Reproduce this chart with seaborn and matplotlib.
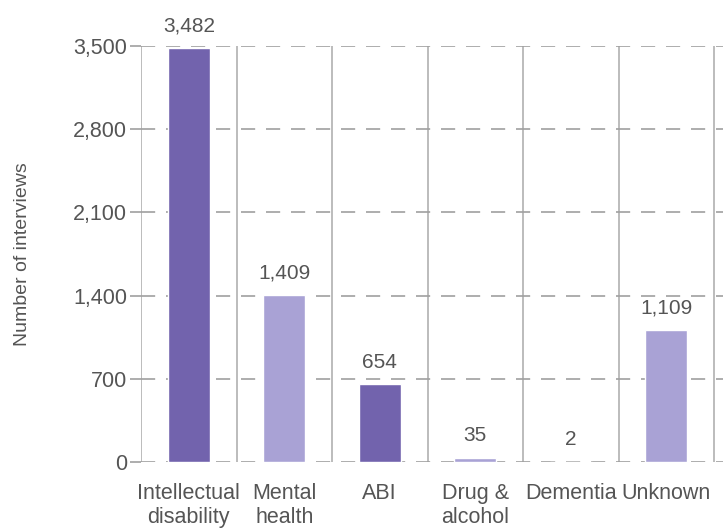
import matplotlib
matplotlib.use("Agg")
import matplotlib.pyplot as plt
import seaborn as sns
import pandas as pd
from matplotlib.ticker import FuncFormatter, MultipleLocator, FixedLocator

categories = ["Intellectual\ndisability", "Mental\nhealth", "ABI",
              "Drug &\nalcohol", "Dementia", "Unknown"]
interviews = [3482, 1409, 654, 35, 2, 1109]
bar_colors = ["#7263ad", "#a9a2d5", "#7263ad", "#a9a2d5", "#7263ad", "#a9a2d5"]
y_ticks = [0, 700, 1400, 2100, 2800, 3500]

sns.set_theme(style="white")
plt.rcParams["font.family"] = ["Liberation Sans", "DejaVu Sans"]
text_color = "#555555"

df = pd.DataFrame({"category": categories, "interviews": interviews})

fig = plt.figure(figsize=(7.23, 5.28), dpi=100)
ax = fig.add_axes([141 / 723, 0.125, 764 / 723, 0.788])

sns.barplot(data=df, x="category", y="interviews", hue="category",
            palette=bar_colors, legend=False, width=0.44, ax=ax,
            saturation=1, zorder=3)

ax.set_xlim(-0.5, len(categories) + 1.5)
ax.set_ylim(0, 3500)
ax.yaxis.set_major_locator(FixedLocator(y_ticks))
ax.yaxis.set_major_formatter(FuncFormatter(lambda v, p: f"{int(v):,}"))

# dashed horizontal gridlines, solid column separators
ax.yaxis.grid(True, which="major", color="#a0a0a0", linewidth=1.2,
              linestyle=(0, (8.5, 6.5)), zorder=1)
ax.xaxis.set_minor_locator(MultipleLocator(1, offset=0.5))
ax.xaxis.grid(True, which="minor", color="#b0b0b0", linewidth=1.2, zorder=1)
ax.xaxis.grid(False, which="major")
for s in ax.spines.values():
    s.set_visible(False)

ax.tick_params(axis="y", which="major", left=True, length=8, width=1.2,
               color="#a0a0a0", labelsize=15.5, labelcolor=text_color, pad=2)
ax.tick_params(axis="x", which="both", bottom=False, labelsize=15.5,
               labelcolor=text_color, pad=9)
for lbl in ax.get_xticklabels():
    lbl.set_linespacing(1.2)

ax.set_xlabel("")
ax.set_ylabel("Number of interviews", fontsize=14, color=text_color, labelpad=30)

for i, v in enumerate(interviews):
    ax.annotate(f"{v:,}", xy=(i, v), xytext=(0, 9), textcoords="offset points",
                ha="center", va="bottom", fontsize=15, color=text_color,
                annotation_clip=False)

fig.savefig("out.png", dpi=100)
